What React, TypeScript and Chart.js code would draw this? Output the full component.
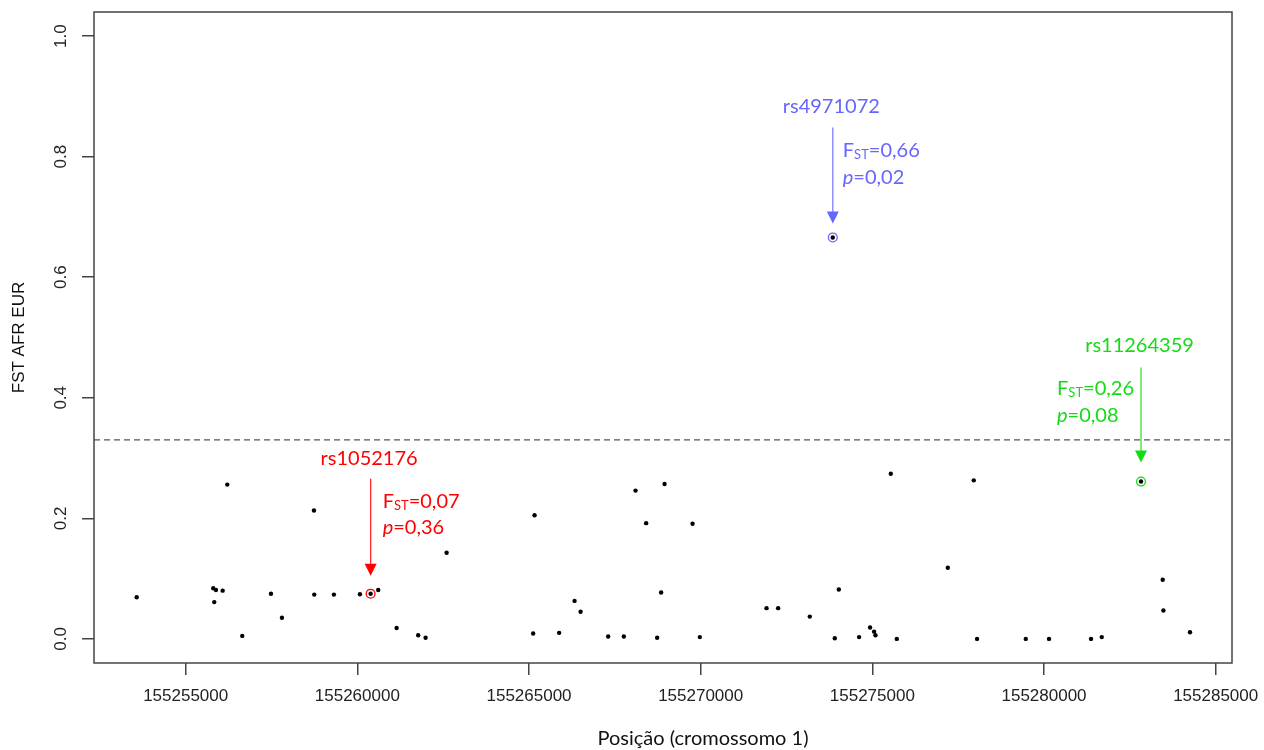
import React, { useEffect, useRef } from 'react';
import { Chart, registerables } from 'chart.js';

Chart.register(...registerables);

// ---- data ----
const positions: number[] = [
  155253573, 155255804, 155255833, 155255882, 155256077, 155256211, 155256648, 155257484,
  155257804, 155258736, 155258745, 155259318, 155260075, 155260387, 155260608, 155261144,
  155261773, 155261988, 155262600, 155265121, 155265162, 155265878, 155266327, 155266502,
  155267305, 155267762, 155268103, 155268412, 155268732, 155268848, 155268948, 155269763,
  155269975, 155271918, 155272255, 155273178, 155273848, 155273906, 155274023, 155274614,
  155274934, 155275051, 155275091, 155275537, 155275712, 155277197, 155277954, 155278050,
  155279468, 155280146, 155281369, 155281681, 155282825, 155283457, 155283477, 155284252,
];
const fstValues: number[] = [
  0.069, 0.084, 0.061, 0.081, 0.080, 0.256, 0.005, 0.075,
  0.035, 0.213, 0.0735, 0.0735, 0.074, 0.075, 0.081, 0.018,
  0.006, 0.002, 0.143, 0.009, 0.205, 0.010, 0.063, 0.045,
  0.004, 0.004, 0.246, 0.192, 0.002, 0.077, 0.257, 0.191,
  0.003, 0.051, 0.051, 0.037, 0.666, 0.001, 0.082, 0.003,
  0.019, 0.012, 0.006, 0.274, 0.000, 0.118, 0.263, 0.000,
  0.000, 0.000, 0.000, 0.003, 0.261, 0.098, 0.047, 0.011,
];

const highlightIds: string[] = ['rs1052176', 'rs4971072', 'rs11264359'];
const highlightPositions: number[] = [155260387, 155273848, 155282825];
const highlightFst: number[] = [0.075, 0.666, 0.261];
const highlightFstText: string[] = ['0,07', '0,66', '0,26'];
const highlightPText: string[] = ['0,36', '0,02', '0,08'];
const highlightColors: string[] = ['#FF0000', '#6666FF', '#14DC14'];

const xTickValues: number[] = [
  155255000, 155260000, 155265000, 155270000, 155275000, 155280000, 155285000,
];
const yTickValues: number[] = [0, 0.2, 0.4, 0.6, 0.8, 1.0];

const threshold = 0.33;
const xMin = 155252330;
const xMax = 155285475;
const yMin = -0.04;
const yMax = 1.04;

const xTitle = 'Posição (cromossomo 1)';
const yTitle = 'FST AFR EUR';

// ---- annotation layout (pixel offsets from the marked point) ----
const annLayout = [
  { lineTop: -115, tip: -18, labelDy: -135, textDx: 12, fstDy: -92, pDy: -66 },
  { lineTop: -110, tip: -14, labelDy: -131, textDx: 10, fstDy: -87, pDy: -60 },
  { lineTop: -114, tip: -19, labelDy: -136, textDx: -84, fstDy: -93, pDy: -66 },
];

const ANN_FONT = 'Lato, "Noto Sans", sans-serif';
const AXIS_FONT = '"Liberation Sans", Arial, sans-serif';

const overlayPlugin = {
  id: 'overlay',
  afterDraw(chart: any) {
    const { ctx, chartArea, scales } = chart;
    const xs = scales.x;
    const ys = scales.y;
    ctx.save();

    // box
    ctx.strokeStyle = '#444';
    ctx.lineWidth = 1.5;
    ctx.strokeRect(chartArea.left, chartArea.top, chartArea.right - chartArea.left, chartArea.bottom - chartArea.top);

    // y tick labels (rotated, R style)
    ctx.fillStyle = '#222';
    ctx.font = `17px ${AXIS_FONT}`;
    ctx.textAlign = 'center';
    ctx.textBaseline = 'middle';
    ys.ticks.forEach((t: any) => {
      const py = ys.getPixelForValue(t.value);
      ctx.save();
      ctx.translate(chartArea.left - 33, py);
      ctx.rotate(-Math.PI / 2);
      ctx.fillText(Number(t.value).toFixed(1), 0, 0);
      ctx.restore();
    });

    // y title
    ctx.save();
    ctx.translate(19, (chartArea.top + chartArea.bottom) / 2);
    ctx.rotate(-Math.PI / 2);
    ctx.fillStyle = '#111';
    ctx.fillText(yTitle, 0, 0);
    ctx.restore();

    // x title
    ctx.fillStyle = '#111';
    ctx.font = `20px ${ANN_FONT}`;
    ctx.fillText(xTitle, chartArea.left + 609, 739);

    // annotations
    highlightIds.forEach((id, i) => {
      const L = annLayout[i];
      const color = highlightColors[i];
      const px = xs.getPixelForValue(highlightPositions[i]);
      const py = ys.getPixelForValue(highlightFst[i]);
      const tipY = py + L.tip;

      // arrow line
      ctx.strokeStyle = color;
      ctx.globalAlpha = 0.85;
      ctx.lineWidth = 1.3;
      ctx.beginPath();
      ctx.moveTo(px, py + L.lineTop);
      ctx.lineTo(px, tipY - 10);
      ctx.stroke();
      ctx.globalAlpha = 1;
      // arrow head
      ctx.fillStyle = color;
      ctx.beginPath();
      ctx.moveTo(px - 6, tipY - 12);
      ctx.lineTo(px + 6, tipY - 12);
      ctx.lineTo(px, tipY);
      ctx.closePath();
      ctx.fill();

      // id label
      ctx.font = `20px ${ANN_FONT}`;
      ctx.textAlign = 'center';
      ctx.textBaseline = 'middle';
      ctx.fillText(id, px - 1.5, py + L.labelDy);

      // F_ST = value
      ctx.textAlign = 'left';
      let tx = px + L.textDx;
      const fy = py + L.fstDy;
      ctx.font = `20px ${ANN_FONT}`;
      ctx.fillText('F', tx, fy);
      tx += ctx.measureText('F').width;
      ctx.font = `13px ${ANN_FONT}`;
      ctx.fillText('ST', tx, fy + 4);
      tx += ctx.measureText('ST').width;
      ctx.font = `20px ${ANN_FONT}`;
      ctx.fillText('=' + highlightFstText[i], tx, fy);

      // p = value
      let tx2 = px + L.textDx;
      const pyy = py + L.pDy;
      ctx.font = `italic 20px ${ANN_FONT}`;
      ctx.fillText('p', tx2, pyy);
      tx2 += ctx.measureText('p').width;
      ctx.font = `20px ${ANN_FONT}`;
      ctx.fillText('=' + highlightPText[i], tx2, pyy);
    });

    ctx.restore();
  },
};

export default function App() {
  const canvasRef = useRef<HTMLCanvasElement | null>(null);

  useEffect(() => {
    if (!canvasRef.current) return;
    const pointData = positions.map((p, i) => ({ x: p, y: fstValues[i] }));
    const ringData = highlightPositions.map((p, i) => ({ x: p, y: highlightFst[i] }));

    const chart = new Chart(canvasRef.current, {
      type: 'scatter',
      data: {
        datasets: [
          {
            label: 'SNPs',
            data: pointData,
            pointRadius: 2.2,
            pointBackgroundColor: '#000',
            pointBorderWidth: 0,
            order: 0,
          },
          {
            label: 'highlight',
            data: ringData,
            pointRadius: 4.4,
            pointBackgroundColor: 'rgba(0,0,0,0)',
            pointBorderColor: highlightColors,
            pointBorderWidth: 1.3,
            order: 1,
          },
          {
            label: 'threshold',
            data: [
              { x: xMin, y: threshold },
              { x: xMax, y: threshold },
            ],
            showLine: true,
            borderColor: '#555',
            borderWidth: 1.3,
            borderDash: [6, 4],
            pointRadius: 0,
            order: 2,
          } as any,
        ],
      },
      options: {
        animation: false,
        responsive: true,
        maintainAspectRatio: false,
        events: [],
        layout: { padding: { left: 0, top: 12, right: 32, bottom: 0 } },
        plugins: {
          legend: { display: false },
          tooltip: { enabled: false },
          title: { display: false },
        },
        scales: {
          x: {
            type: 'linear',
            min: xMin,
            max: xMax,
            afterBuildTicks: (s: any) => {
              s.ticks = xTickValues.map((v) => ({ value: v }));
            },
            afterFit: (s: any) => {
              s.height = 87;
              s.paddingLeft = 0;
              s.paddingRight = 0;
            },
            ticks: {
              autoSkip: false,
              maxRotation: 0,
              minRotation: 0,
              padding: 11,
              color: '#222',
              font: { family: AXIS_FONT, size: 17 },
              callback: (v: any) => String(v),
            },
            grid: {
              drawOnChartArea: false,
              drawTicks: true,
              tickLength: 12,
              color: '#444',
              lineWidth: 1.5,
            },
            border: { display: false },
          },
          y: {
            type: 'linear',
            min: yMin,
            max: yMax,
            afterBuildTicks: (s: any) => {
              s.ticks = yTickValues.map((v) => ({ value: v }));
            },
            afterFit: (s: any) => {
              s.width = 94;
              s.paddingTop = 0;
              s.paddingBottom = 0;
            },
            ticks: { display: false },
            grid: {
              drawOnChartArea: false,
              drawTicks: true,
              tickLength: 12,
              color: '#444',
              lineWidth: 1.5,
            },
            border: { display: false },
          },
        },
      },
      plugins: [overlayPlugin],
    });
    return () => chart.destroy();
  }, []);

  return (
    <div style={{ position: 'fixed', left: 0, top: 0, width: 1264, height: 750, background: '#fff' }}>
      <canvas ref={canvasRef} />
    </div>
  );
}
